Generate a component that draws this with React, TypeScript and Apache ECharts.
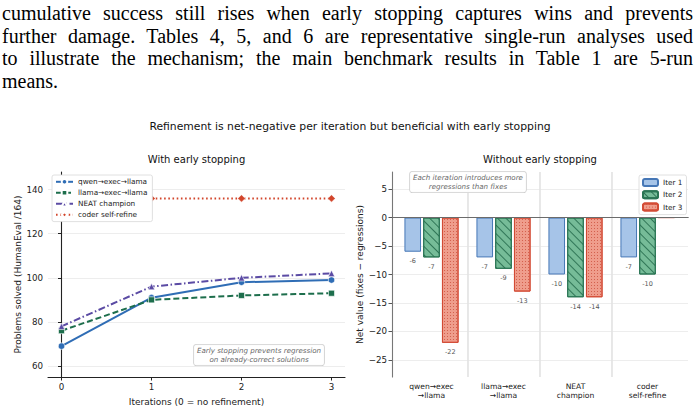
import React, { useEffect, useRef } from "react";
import * as echarts from "echarts";

// ---------- text ----------
const paragraphLines = [
  "cumulative success still rises when early stopping captures wins and prevents",
  "further damage. Tables 4, 5, and 6 are representative single-run analyses used",
  "to illustrate the mechanism; the main benchmark results in Table 1 are 5-run",
  "means.",
];
const mainTitle = "Refinement is net-negative per iteration but beneficial with early stopping";
const leftTitle = "With early stopping";
const rightTitle = "Without early stopping";
const leftNote = "Early stopping prevents regression\non already-correct solutions";
const rightNote = "Each iteration introduces more\nregressions than fixes";

// ---------- left panel data ----------
const iterations = [0, 1, 2, 3];
const lineNames = ["qwen→exec→llama", "llama→exec→llama", "NEAT champion", "coder self-refine"];
const qwenSolved = [69, 91, 98, 99];
const llamaSolved = [76, 90, 92, 93];
const neatSolved = [78, 96, 100, 102];
const coderSolved: (number | null)[] = [null, 136, 136, 136];
const leftYTicks = [60, 80, 100, 120, 140];

// ---------- right panel data ----------
const pipelines = ["qwen→exec\n→llama", "llama→exec\n→llama", "NEAT\nchampion", "coder\nself-refine"];
const iterNames = ["Iter 1", "Iter 2", "Iter 3"];
const iter1Net = [-6, -7, -10, -7];
const iter2Net = [-7, -9, -14, -10];
const iter3Net = [-22, -13, -14, 0];
const rightYTicks = [-25, -20, -15, -10, -5, 0, 5];

const FONT = "DejaVu Sans";

export default function App() {
  const ref = useRef<HTMLDivElement>(null);

  useEffect(() => {
    if (!ref.current) return;
    const chart = echarts.init(ref.current, null, { renderer: "svg" });

    const lineStyleDefs = [
      { color: "#2f6db5", type: "solid", symbol: "circle", size: 6.5, data: qwenSolved },
      { color: "#1d6e4c", type: [6, 3], symbol: "rect", size: 6, data: llamaSolved },
      { color: "#5b4ba4", type: [7, 2.5, 1.5, 2.5], symbol: "triangle", size: 6.5, data: neatSolved },
      { color: "#d2452b", type: [1.6, 2.6], symbol: "diamond", size: 7.5, data: coderSolved },
    ];

    const lineSeries = lineStyleDefs.map((d, k) => ({
      type: "line",
      name: lineNames[k],
      xAxisIndex: 0,
      yAxisIndex: 0,
      data: iterations.map((x, i) => [x, d.data[i] === null ? "-" : d.data[i]]),
      symbol: d.symbol,
      symbolSize: d.size,
      showAllSymbol: true,
      lineStyle: { color: d.color, width: 2, type: d.type },
      itemStyle: { color: d.color, borderColor: "#ffffff", borderWidth: 0.6 },
      z: 3 + k,
    }));

    const barLabel = {
      show: true,
      position: "bottom",
      distance: 6,
      fontSize: 6.5,
      fontFamily: FONT,
      color: "#555",
      formatter: (p: any) => (p.value === 0 ? "" : String(p.value)),
    };

    const barDefs = [
      {
        values: iter1Net,
        itemStyle: { color: "#a6c4e8", borderColor: "#4677b6", borderWidth: 1 },
      },
      {
        values: iter2Net,
        itemStyle: {
          color: "#76bc98",
          borderColor: "#2a7654",
          borderWidth: 1,
          decal: {
            symbol: "rect",
            symbolSize: 1,
            color: "rgba(30,100,70,0.8)",
            dashArrayX: [1, 0],
            dashArrayY: [0.8, 4.6],
            rotation: Math.PI / 4,
          },
        },
      },
      {
        values: iter3Net,
        itemStyle: {
          color: "#ef9d8c",
          borderColor: "#d34b35",
          borderWidth: 1,
          decal: {
            symbol: "rect",
            symbolSize: 1,
            color: "rgba(200,70,50,0.7)",
            dashArrayX: [1, 2],
            dashArrayY: [1, 2],
            rotation: 0,
          },
        },
      },
    ];

    const barSeries: any[] = barDefs.map((d, k) => ({
      type: "bar",
      name: iterNames[k],
      xAxisIndex: 2,
      yAxisIndex: 2,
      data: d.values,
      barWidth: 16.6,
      barGap: "13%",
      itemStyle: d.itemStyle,
      label: barLabel,
      z: 3,
    }));

    // zero reference line over the whole right frame
    const zeroLineHolder = {
      type: "scatter",
      xAxisIndex: 1,
      yAxisIndex: 1,
      data: [[0.5, 0]],
      symbolSize: 0,
      silent: true,
      z: 4,
      markLine: {
        silent: true,
        symbol: "none",
        animation: false,
        label: { show: false },
        data: [{ yAxis: 0, lineStyle: { color: "#6b6b6b", width: 1.1, type: "solid" } }],
      },
    };

    const axisLabelBase = { fontFamily: FONT, fontSize: 8.7, color: "#222" };
    const nameStyle = { fontFamily: FONT, fontSize: 9, color: "#222" };

    const option: any = {
      animation: false,
      textStyle: { fontFamily: FONT },
      grid: [
        { left: 48, top: 172, width: 297, height: 205 },
        { left: 392, top: 172, width: 296, height: 205 },
        { left: 395.5, top: 172, width: 288, height: 205 },
      ],
      xAxis: [
        {
          gridIndex: 0,
          type: "value",
          min: -0.15,
          max: 3.15,
          axisLine: { show: true, lineStyle: { color: "#222", width: 1.1 } },
          axisTick: { show: true, customValues: iterations, length: 3.5, lineStyle: { color: "#222" } },
          axisLabel: { ...axisLabelBase, customValues: iterations, margin: 5 },
          splitLine: { show: false },
          name: "Iterations (0 = no refinement)",
          nameLocation: "middle",
          nameGap: 20,
          nameTextStyle: nameStyle,
        },
        {
          gridIndex: 1,
          type: "value",
          min: 0,
          max: 1,
          axisLine: { show: true, lineStyle: { color: "#222", width: 1.1 } },
          axisTick: { show: false },
          axisLabel: { show: false },
          splitLine: { show: false },
        },
        {
          gridIndex: 2,
          type: "category",
          data: pipelines,
          axisLine: { show: false },
          axisTick: { show: true, alignWithLabel: true, length: 3.5, lineStyle: { color: "#555" } },
          axisLabel: {
            fontFamily: FONT,
            fontSize: 7.6,
            color: "#222",
            lineHeight: 9,
            margin: 5,
            interval: 0,
          },
          splitLine: {
            show: true,
            lineStyle: {
              color: ["rgba(0,0,0,0)", "#e2e2e2", "#e2e2e2", "#e2e2e2", "rgba(0,0,0,0)"],
              width: 1.6,
            },
          },
        },
      ],
      yAxis: [
        {
          gridIndex: 0,
          type: "value",
          min: 55,
          max: 148,
          axisLine: { show: true, lineStyle: { color: "#222", width: 1.1 } },
          axisTick: { show: true, customValues: leftYTicks, length: 3.5, lineStyle: { color: "#222" } },
          axisLabel: { ...axisLabelBase, customValues: leftYTicks, margin: 5 },
          splitLine: { show: true, lineStyle: { color: "#ebebeb", width: 0.9 } },
          name: "Problems solved (HumanEval /164)",
          nameLocation: "middle",
          nameGap: 25,
          nameRotate: 90,
          nameTextStyle: nameStyle,
        },
        {
          gridIndex: 1,
          type: "value",
          min: -28,
          max: 8,
          axisLine: { show: true, lineStyle: { color: "#777", width: 1.1 } },
          axisTick: { show: true, customValues: rightYTicks, length: 3.5, lineStyle: { color: "#555" } },
          axisLabel: {
            ...axisLabelBase,
            customValues: rightYTicks,
            margin: 5,
            formatter: (v: number) => (v < 0 ? "\u2212" + Math.abs(v) : String(v)),
          },
          splitLine: { show: true, lineStyle: { color: "#ebebeb", width: 0.9 } },
          name: "Net value (fixes \u2212 regressions)",
          nameLocation: "middle",
          nameGap: 24,
          nameRotate: 90,
          nameTextStyle: nameStyle,
        },
        {
          gridIndex: 2,
          type: "value",
          min: -28,
          max: 8,
          show: false,
          splitLine: { show: false },
        },
      ],
      legend: [
        {
          data: lineNames,
          left: 52,
          top: 175,
          orient: "vertical",
          itemWidth: 17,
          itemHeight: 7,
          itemGap: 3.4,
          padding: [3, 5, 3, 3],
          backgroundColor: "#ffffff",
          borderColor: "#d8d8d8",
          borderWidth: 0.8,
          borderRadius: 2,
          textStyle: { fontFamily: FONT, fontSize: 7.3, color: "#222" },
          selectedMode: false,
          z: 20,
        },
        {
          data: iterNames,
          left: 639,
          top: 175,
          orient: "vertical",
          itemWidth: 15,
          itemHeight: 7,
          itemGap: 3.3,
          padding: [3, 4, 3, 3],
          backgroundColor: "rgba(255,255,255,0.9)",
          borderColor: "#d8d8d8",
          borderWidth: 0.8,
          borderRadius: 2,
          textStyle: { fontFamily: FONT, fontSize: 7.3, color: "#222" },
          selectedMode: false,
          z: 20,
        },
      ],
      graphic: [
        {
          type: "text",
          x: 350,
          y: 126,
          style: { text: mainTitle, align: "center", verticalAlign: "middle", font: `10.8px "${FONT}"`, fill: "#111" },
        },
        {
          type: "text",
          x: 196.5,
          y: 159,
          style: { text: leftTitle, align: "center", verticalAlign: "middle", font: `10px "${FONT}"`, fill: "#111" },
        },
        {
          type: "text",
          x: 540,
          y: 159,
          style: { text: rightTitle, align: "center", verticalAlign: "middle", font: `10px "${FONT}"`, fill: "#111" },
        },
        {
          type: "text",
          x: 259,
          y: 355,
          z: 10,
          style: {
            text: leftNote,
            align: "center",
            verticalAlign: "middle",
            font: `italic 7.1px "${FONT}"`,
            fill: "#666",
            lineHeight: 8.8,
            backgroundColor: "rgba(255,255,255,0.9)",
            borderColor: "#cfcfcf",
            borderWidth: 0.8,
            borderRadius: 2.5,
            padding: [1.5, 3],
          },
        },
        {
          type: "text",
          x: 468,
          y: 182,
          z: 10,
          style: {
            text: rightNote,
            align: "center",
            verticalAlign: "middle",
            font: `italic 7.1px "${FONT}"`,
            fill: "#666",
            lineHeight: 8.8,
            backgroundColor: "rgba(255,255,255,0.9)",
            borderColor: "#cfcfcf",
            borderWidth: 0.8,
            borderRadius: 2.5,
            padding: [1.5, 3],
          },
        },
      ],
      series: [...lineSeries, zeroLineHolder, ...barSeries],
    };

    chart.setOption(option);
    return () => chart.dispose();
  }, []);

  return (
    <div style={{ position: "fixed", left: 0, top: 0, width: 699, height: 410, background: "#fff" }}>
      <div ref={ref} style={{ position: "absolute", left: 0, top: 0, width: 699, height: 410 }} />
      <div
        style={{
          position: "absolute",
          left: 2,
          top: 2,
          width: 691,
          fontFamily: '"Liberation Serif", serif',
          fontSize: 20,
          lineHeight: "22.6px",
          color: "#000",
        }}
      >
        {paragraphLines.map((t, i) => (
          <div
            key={i}
            style={{
              whiteSpace: "nowrap",
              textAlign: i < paragraphLines.length - 1 ? "justify" : "left",
              textAlignLast: i < paragraphLines.length - 1 ? "justify" : "left",
            }}
          >
            {t}
          </div>
        ))}
      </div>
    </div>
  );
}
